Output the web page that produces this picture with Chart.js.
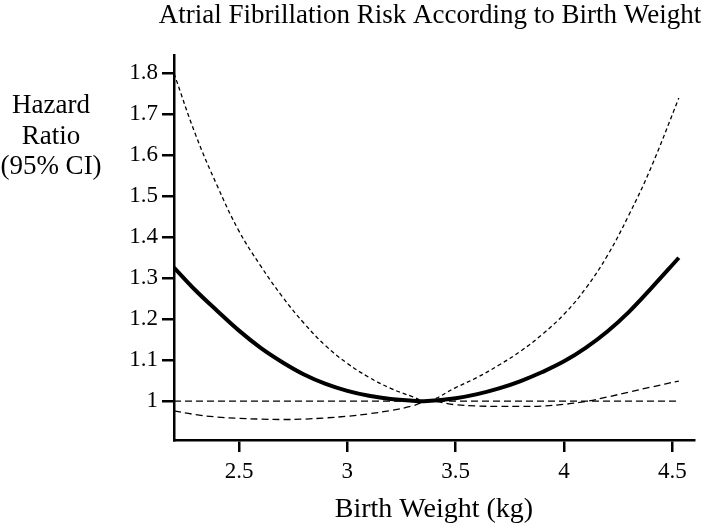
<!DOCTYPE html>
<html>
<head>
<meta charset="utf-8">
<script src="https://cdn.jsdelivr.net/npm/chart.js@4"></script>
<style>
  html, body { margin: 0; padding: 0; background: #fff; }
  canvas { display: block; }
</style>
</head>
<body>
<canvas id="afChart" width="709" height="526"></canvas>
<script>
// birth weight (kg) sample points along the spline
let weights = [2.2, 2.3, 2.4, 2.5, 2.6, 2.7, 2.8, 2.9, 3.0, 3.1, 3.2, 3.3, 3.37,
  3.5, 3.6, 3.7, 3.8, 3.9, 4.0, 4.1, 4.2, 4.3, 4.4, 4.53];

let hazard = [1.326, 1.27, 1.22, 1.172, 1.13, 1.095, 1.065, 1.042, 1.025, 1.013, 1.005, 1.001, 1.0,
  1.007, 1.017, 1.031, 1.049, 1.071, 1.097, 1.13, 1.17, 1.218, 1.274, 1.35];

let upperCI = [1.80, 1.65, 1.525, 1.415, 1.33, 1.255, 1.19, 1.135, 1.092, 1.058, 1.031, 1.011, 1.0,
  1.033, 1.058, 1.088, 1.122, 1.163, 1.212, 1.275, 1.355, 1.455, 1.568, 1.74];

let lowerCI = [0.976, 0.967, 0.961, 0.958, 0.956, 0.955, 0.956, 0.959, 0.963, 0.969, 0.977, 0.988, 1.0,
  0.991, 0.988, 0.987, 0.987, 0.988, 0.992, 0.999, 1.01, 1.022, 1.034, 1.049];

let refWeights = [2.2, 4.53];
let refLine = [1, 1];

let xTicks = [2.5, 3, 3.5, 4, 4.5];
let yTicks = [1, 1.1, 1.2, 1.3, 1.4, 1.5, 1.6, 1.7, 1.8];

let serif = "'Liberation Serif', 'Times New Roman', serif";

function toPoints(xs, ys) {
  return xs.map((x, i) => ({ x: x, y: ys[i] }));
}

// title and horizontal y label, drawn on the canvas
let textPlugin = {
  id: 'textPlugin',
  afterDraw(chart) {
    let ctx = chart.ctx;
    ctx.save();
    ctx.fillStyle = '#000';
    ctx.textAlign = 'center';
    ctx.textBaseline = 'middle';
    ctx.font = '27px ' + serif;
    ctx.fillText('Atrial Fibrillation Risk According to Birth Weight', 430, 16);

    ctx.textBaseline = 'alphabetic';
    ctx.font = '27px ' + serif;
    ctx.fillText('Hazard', 51, 113);
    ctx.fillText('Ratio', 51, 144);
    ctx.fillText('(95% CI)', 51, 174);
    ctx.restore();
  }
};

let ctx = document.getElementById('afChart').getContext('2d');

new Chart(ctx, {
  type: 'line',
  data: {
    datasets: [
      {
        label: 'Reference',
        data: toPoints(refWeights, refLine),
        borderColor: '#000',
        borderWidth: 1.3,
        borderDash: [7, 4],
        pointRadius: 0
      },
      {
        label: 'Lower 95% CI',
        data: toPoints(weights, lowerCI),
        borderColor: '#000',
        borderWidth: 1.3,
        borderDash: [7, 4],
        pointRadius: 0,
        tension: 0.4
      },
      {
        label: 'Upper 95% CI',
        data: toPoints(weights, upperCI),
        borderColor: '#000',
        borderWidth: 1.3,
        borderDash: [4, 3],
        pointRadius: 0,
        tension: 0.4
      },
      {
        label: 'Hazard Ratio',
        data: toPoints(weights, hazard),
        borderColor: '#000',
        borderWidth: 4,
        pointRadius: 0,
        tension: 0.4
      }
    ]
  },
  options: {
    responsive: false,
    animation: false,
    devicePixelRatio: 1,
    layout: {
      padding: { top: 55, right: 15, bottom: 0, left: 0 }
    },
    plugins: {
      legend: { display: false },
      tooltip: { enabled: false }
    },
    scales: {
      x: {
        type: 'linear',
        min: 2.2,
        max: 4.6,
        afterFit: axis => { axis.height = 86; },
        afterBuildTicks: axis => { axis.ticks = xTicks.map(v => ({ value: v })); },
        ticks: {
          color: '#000',
          padding: 6,
          font: { family: serif, size: 23 },
          callback: value => String(value)
        },
        grid: {
          drawOnChartArea: false,
          drawTicks: true,
          tickLength: 12,
          color: '#000',
          lineWidth: 2.5
        },
        border: { display: true, color: '#000', width: 2.5 },
        title: {
          display: true,
          text: 'Birth Weight (kg)',
          color: '#000',
          font: { family: serif, size: 28 },
          padding: { top: 0, bottom: 0 }
        }
      },
      y: {
        type: 'linear',
        min: 0.905,
        max: 1.845,
        afterFit: axis => { axis.width = 174; },
        afterBuildTicks: axis => { axis.ticks = yTicks.map(v => ({ value: v })); },
        ticks: {
          color: '#000',
          padding: 4,
          font: { family: serif, size: 23 },
          callback: value => String(value)
        },
        grid: {
          drawOnChartArea: false,
          drawTicks: true,
          tickLength: 12,
          color: '#000',
          lineWidth: 2.5
        },
        border: { display: true, color: '#000', width: 2.5 }
      }
    }
  },
  plugins: [textPlugin]
});
</script>
</body>
</html>
